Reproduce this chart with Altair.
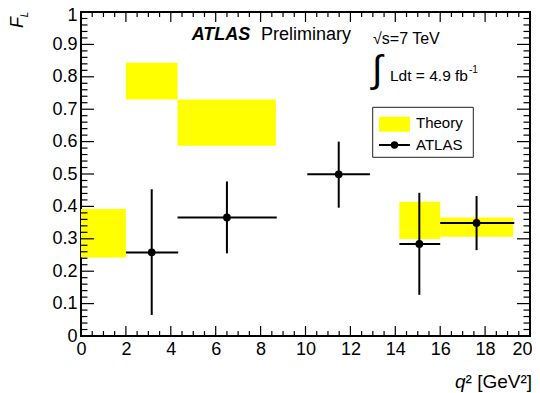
import altair as alt
import pandas as pd

# ---- data ----
theory_x_lo = [0.0, 2.0, 4.3, 14.18, 16.0]
theory_x_hi = [2.0, 4.3, 8.68, 16.0, 19.25]
theory_y_lo = [0.242, 0.730, 0.587, 0.299, 0.306]
theory_y_hi = [0.392, 0.843, 0.730, 0.414, 0.366]

atlas_x = [3.15, 6.5, 11.48, 15.07, 17.62]
atlas_x_lo = [2.0, 4.3, 10.08, 14.18, 16.0]
atlas_x_hi = [4.33, 8.72, 12.87, 16.0, 19.3]
atlas_y = [0.258, 0.366, 0.499, 0.284, 0.349]
atlas_y_lo = [0.065, 0.255, 0.396, 0.127, 0.265]
atlas_y_hi = [0.453, 0.477, 0.600, 0.442, 0.432]

x_major = [0, 2, 4, 6, 8, 10, 12, 14, 16, 18, 20]
x_minor = [i * 0.5 for i in range(41) if i % 4 != 0]
y_major = [round(i * 0.1, 2) for i in range(11)]
y_minor = [round(i * 0.02, 2) for i in range(51) if i % 5 != 0]

W, H = 449, 324
FONT = "Liberation Sans"

theory = pd.DataFrame({"x0": theory_x_lo, "x1": theory_x_hi,
                       "y0": theory_y_lo, "y1": theory_y_hi})
atlas = pd.DataFrame({"x": atlas_x, "xlo": atlas_x_lo, "xhi": atlas_x_hi,
                      "y": atlas_y, "ylo": atlas_y_lo, "yhi": atlas_y_hi})

xs = alt.Scale(domain=[0, 20], nice=False, zero=False)
ys = alt.Scale(domain=[0, 1], nice=False, zero=False)

x_axis = alt.Axis(values=x_major, ticks=False, tickSize=0, domain=False, grid=False,
                  labelPadding=4, labelFontSize=18, labelFont=FONT, labelColor="black",
                  format="~g", labelFlush=False,
                  labelAlign={"condition": {"test": "datum.value == 20", "value": "right"},
                              "value": "center"},
                  labelOffset={"condition": {"test": "datum.value == 20", "value": 2},
                               "value": 0})
y_axis = alt.Axis(values=y_major, ticks=False, tickSize=0, domain=False, grid=False,
                  labelPadding=4, labelFontSize=18, labelFont=FONT, labelColor="black",
                  format=".1~f", labelFlush=False,
                  labelOffset={"condition": {"test": "datum.value == 1", "value": 3.5},
                               "value": 0})


def X(f):
    return alt.X(f, scale=xs, axis=x_axis, title=None)


def Y(f):
    return alt.Y(f, scale=ys, axis=y_axis, title=None)


rects = alt.Chart(theory).mark_rect(color="#ffff00").encode(
    x=X("x0:Q"), x2="x1:Q", y=Y("y0:Q"), y2="y1:Q")

hbar = alt.Chart(atlas).mark_rule(color="black", strokeWidth=2).encode(
    x=X("xlo:Q"), x2="xhi:Q", y=Y("y:Q"))
vbar = alt.Chart(atlas).mark_rule(color="black", strokeWidth=2).encode(
    x=X("x:Q"), y=Y("ylo:Q"), y2="yhi:Q")
pts = alt.Chart(atlas).mark_circle(color="black", size=60, opacity=1).encode(
    x=X("x:Q"), y=Y("y:Q"))


def xticks(vals, length):
    d = pd.DataFrame({"v": vals})
    bot = alt.Chart(d).mark_rule(color="black", strokeWidth=1.2).encode(
        x=X("v:Q"), y=alt.value(H), y2=alt.value(H - length))
    top = alt.Chart(d).mark_rule(color="black", strokeWidth=1.2).encode(
        x=X("v:Q"), y=alt.value(0), y2=alt.value(length))
    return [bot, top]


def yticks(vals, length):
    d = pd.DataFrame({"v": vals})
    left = alt.Chart(d).mark_rule(color="black", strokeWidth=1.2).encode(
        y=Y("v:Q"), x=alt.value(0), x2=alt.value(length))
    right = alt.Chart(d).mark_rule(color="black", strokeWidth=1.2).encode(
        y=Y("v:Q"), x=alt.value(W), x2=alt.value(W - length))
    return [left, right]


ticks = xticks(x_major, 10) + xticks(x_minor, 5) + yticks(y_major, 13) + yticks(y_minor, 6.5)


def label(txt, x, y, size, align="left", baseline="alphabetic", style="normal",
          weight="normal", angle=0):
    return alt.Chart(pd.DataFrame({"t": [txt]})).mark_text(
        font=FONT, fontSize=size, align=align, baseline=baseline, fontStyle=style,
        fontWeight=weight, angle=angle, color="black",
    ).encode(x=alt.value(x), y=alt.value(y), text="t:N")


texts = [
    label("ATLAS", 110.7, 28, 18, style="italic", weight="bold"),
    label("Preliminary", 180, 28, 18),
    label("√s=7 TeV", 292, 32, 16),
    label("∫", 291, 70, 38),
    label("Ldt = 4.9 fb", 309, 69, 15.5),
    label("-1", 388, 61, 10),
    label("F", -58, 10.5, 18, align="center", style="italic", angle=270),
    label("L", -53.5, 2.5, 10, align="center", style="italic", angle=270),
    label("q", 374, 376, 19, style="italic"),
    label("² [GeV²]", 384.6, 376, 19),
    label("Theory", 335, 111, 15, baseline="middle"),
    label("ATLAS", 335, 133, 15, baseline="middle"),
]

one = pd.DataFrame({"a": [0]})
legend_box = alt.Chart(one).mark_rect(fill="white", stroke="#222222", strokeWidth=1).encode(
    x=alt.value(291.7), x2=alt.value(392.3), y=alt.value(95.3), y2=alt.value(145.3))
legend_swatch = alt.Chart(one).mark_rect(fill="#ffff00").encode(
    x=alt.value(298), x2=alt.value(329), y=alt.value(104.7), y2=alt.value(119.7))
legend_line = alt.Chart(one).mark_rule(color="black", strokeWidth=2).encode(
    x=alt.value(298), x2=alt.value(329), y=alt.value(133))
legend_dot = alt.Chart(one).mark_point(filled=True, color="black", size=55, opacity=1,
                                       shape="circle").encode(
    x=alt.value(313.5), y=alt.value(133))

chart = alt.layer(
    rects, hbar, vbar, pts, *ticks, legend_box, legend_swatch, legend_line, legend_dot, *texts
).properties(
    width=W, height=H,
    autosize=alt.AutoSizeParams(type="none"),
    padding={"left": 73, "top": 4, "right": 2, "bottom": 57},
    background="white",
).configure_view(stroke="black", strokeWidth=2)

chart.save("out.html", embed_options={"renderer": "svg", "actions": False})
